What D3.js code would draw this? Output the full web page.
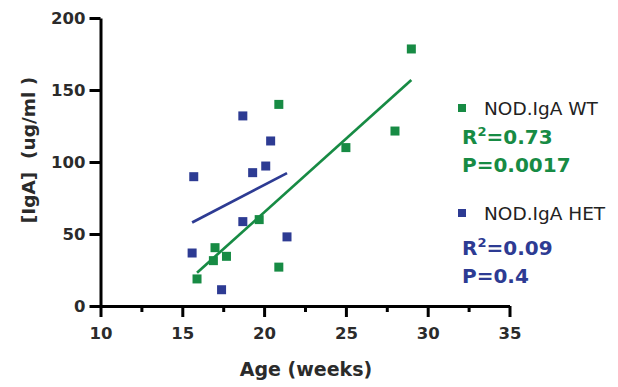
<!DOCTYPE html>
<html>
<head>
<meta charset="utf-8">
<script src="https://cdn.jsdelivr.net/npm/d3@7"></script>
<style>
  body { margin: 0; background: #fff; }
  text { font-family: "DejaVu Sans", sans-serif; }
</style>
</head>
<body>
<div id="chart"></div>
<script>
// values
const wtAge = [15.9, 17.0, 16.9, 17.7, 19.7, 20.9, 20.9, 25.0, 28.0, 29.0];
const wtIgA = [18.8, 40.5, 31.5, 34.5, 60, 27, 140, 110, 121.5, 178.5];
const hetAge = [15.7, 18.7, 20.4, 20.1, 19.3, 15.6, 18.7, 21.4, 17.4];
const hetIgA = [89.8, 132, 114.6, 97.2, 92.6, 36.8, 58.6, 48, 11.3];

const xTicks = [10, 15, 20, 25, 30, 35];
const xMinorTicks = [12.5, 17.5, 22.5, 27.5, 32.5];
const yTicks = [0, 50, 100, 150, 200];

const seriesNames = ["NOD.IgA WT", "NOD.IgA HET"];
const seriesR2 = ["0.73", "0.09"];
const seriesP = ["0.0017", "0.4"];
const seriesColors = ["#178b44", "#2d3b93"];

const width = 618, height = 387;

const svg = d3.select("#chart").append("svg")
    .attr("width", width)
    .attr("height", height);

const x = d3.scaleLinear().domain([10, 35]).range([100.5, 509.5]);
const y = d3.scaleLinear().domain([0, 200]).range([306, 18]);

// least squares fit
function fit(xs, ys) {
    const mx = d3.mean(xs), my = d3.mean(ys);
    let sxy = 0, sxx = 0;
    xs.forEach((v, i) => { sxy += (v - mx) * (ys[i] - my); sxx += (v - mx) * (v - mx); });
    const slope = sxy / sxx;
    const icpt = my - slope * mx;
    const x0 = d3.min(xs), x1 = d3.max(xs);
    return [[x0, icpt + slope * x0], [x1, icpt + slope * x1]];
}

// axes
const xAxis = svg.append("g")
    .attr("transform", `translate(0,${y(0)})`)
    .call(d3.axisBottom(x).tickValues(xTicks).tickSize(11).tickPadding(10).tickSizeOuter(0));
svg.append("g")
    .attr("transform", `translate(0,${y(0)})`)
    .call(d3.axisBottom(x).tickValues(xMinorTicks).tickSize(6).tickFormat("").tickSizeOuter(0))
    .select(".domain").remove();
const yAxis = svg.append("g")
    .attr("transform", `translate(${x(10)},0)`)
    .call(d3.axisLeft(y).tickValues(yTicks).tickSize(11).tickPadding(4).tickSizeOuter(0));

[xAxis, yAxis].forEach(a => {
    a.select(".domain").attr("stroke", "#000").attr("stroke-width", 3);
    a.selectAll(".tick line").attr("stroke", "#000").attr("stroke-width", 3);
    a.selectAll(".tick text")
        .attr("fill", "#2b2b2b")
        .style("font-size", "16.5px")
        .style("font-weight", "bold");
});
svg.selectAll(".tick line").attr("stroke", "#000").attr("stroke-width", 3);

// axis titles
svg.append("text")
    .attr("x", 306)
    .attr("y", 376)
    .attr("text-anchor", "middle")
    .attr("fill", "#2b2b2b")
    .style("font-size", "19px")
    .style("font-weight", "bold")
    .text("Age (weeks)");

svg.append("text")
    .attr("transform", "translate(35,150) rotate(-90)")
    .attr("text-anchor", "middle")
    .attr("fill", "#2b2b2b")
    .style("font-size", "18.5px")
    .style("font-weight", "bold")
    .style("white-space", "pre")
    .text("[IgA]  (ug/ml )");

// regression lines + points
const series = [
    { ages: wtAge, vals: wtIgA },
    { ages: hetAge, vals: hetIgA }
];
const sq = 9;

series.forEach((s, k) => {
    const line = d3.line().x(d => x(d[0])).y(d => y(d[1]));
    svg.append("path")
        .attr("d", line(fit(s.ages, s.vals)))
        .attr("fill", "none")
        .attr("stroke", seriesColors[k])
        .attr("stroke-width", 2.7);

    svg.append("g").selectAll("rect")
        .data(s.ages.map((a, i) => [a, s.vals[i]]))
        .join("rect")
        .attr("x", d => x(d[0]) - sq / 2)
        .attr("y", d => y(d[1]) - sq / 2)
        .attr("width", sq)
        .attr("height", sq)
        .attr("fill", seriesColors[k]);
});

// legend + stats
const legendTop = [115, 220];
const statTop = [144, 255];
const statGap = [28, 28];

seriesNames.forEach((name, k) => {
    const g = svg.append("g");
    g.append("rect")
        .attr("x", 458)
        .attr("y", legendTop[k] - 11)
        .attr("width", 8)
        .attr("height", 8)
        .attr("fill", seriesColors[k]);
    g.append("text")
        .attr("x", 484)
        .attr("y", legendTop[k])
        .attr("fill", "#222")
        .style("font-size", "18.5px")
        .text(name);

    const r = g.append("text")
        .attr("x", 462)
        .attr("y", statTop[k])
        .attr("fill", seriesColors[k])
        .style("font-size", "20px")
        .style("font-weight", "bold");
    r.append("tspan").text("R");
    r.append("tspan").attr("dy", -8).style("font-size", "13px").text("2");
    r.append("tspan").attr("dy", 8).text("=" + seriesR2[k]);

    g.append("text")
        .attr("x", 462)
        .attr("y", statTop[k] + statGap[k])
        .attr("fill", seriesColors[k])
        .style("font-size", "20px")
        .style("font-weight", "bold")
        .text("P=" + seriesP[k]);
});
</script>
</body>
</html>
